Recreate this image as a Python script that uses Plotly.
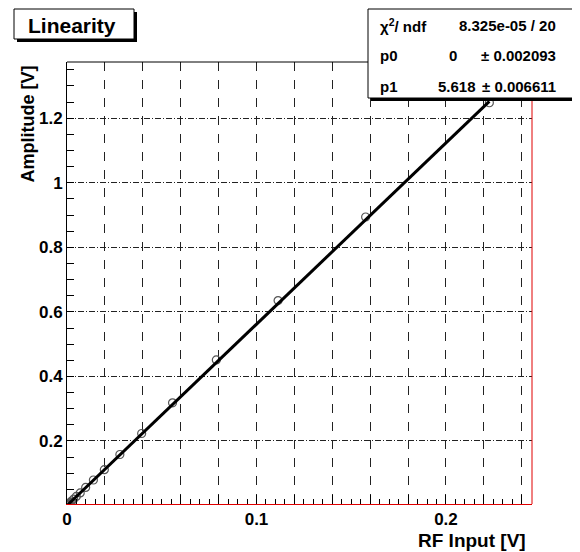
import plotly.graph_objects as go

# ---- data ----
rf_input = [0.2229, 0.1576, 0.1114, 0.0788, 0.0557, 0.0394, 0.0279, 0.0197,
            0.01393, 0.00985, 0.00697, 0.00492, 0.00348, 0.00246, 0.00174,
            0.00123, 0.00087, 0.00062, 0.00044, 0.00031, 0.00022, 0.00015]
amplitude = [1.248, 0.894, 0.635, 0.451, 0.318, 0.223, 0.158, 0.111,
             0.079, 0.056, 0.039, 0.028, 0.0196, 0.0139, 0.0098,
             0.0069, 0.0049, 0.0035, 0.0025, 0.0017, 0.0012, 0.0009]
p0 = 0.0
p1 = 5.618
x_tick_vals = [0.0, 0.02, 0.04, 0.06, 0.08, 0.10, 0.12, 0.14, 0.16, 0.18, 0.20, 0.22, 0.24]
x_tick_text = ["0", "", "", "", "", "0.1", "", "", "", "", "0.2", "", ""]
y_tick_vals = [0.2, 0.4, 0.6, 0.8, 1.0, 1.2]
y_tick_text = ["0.2", "0.4", "0.6", "0.8", "1", "1.2"]
stats_rows = [("χ<sup>2</sup>/ ndf", "8.325e-05 / 20", None),
              ("p0", "0", "± 0.002093"),
              ("p1", "5.618", "± 0.006611")]

fit_x = [min(rf_input), max(rf_input)]
fit_y = [p0 + p1 * v for v in fit_x]

# page body has an 8px margin; work in window pixel coordinates and shift
OFF = 8
W, H = 580 - OFF, 552 - OFF
L, R, T, B = 67, 532, 62, 504          # plot area in window pixels
FONT = "Liberation Sans, Arial, sans-serif"


def px(xp):
    return (xp - L) / (R - L)


def py(yp):
    return (B - yp) / (B - T)


fig = go.Figure()
fig.add_trace(go.Scatter(x=rf_input, y=amplitude, mode="markers",
                         marker=dict(symbol="circle-open", size=8,
                                     color="#555555", line=dict(width=1.2)),
                         showlegend=False))
fig.add_trace(go.Scatter(x=fit_x, y=fit_y, mode="lines",
                         line=dict(color="black", width=3),
                         showlegend=False))

shapes = []
# frame: top & left black, right & bottom red
shapes.append(dict(type="line", xref="paper", yref="paper", x0=0, x1=1, y0=1, y1=1,
                   line=dict(color="black", width=1)))
shapes.append(dict(type="line", xref="paper", yref="paper", x0=1, x1=1, y0=0, y1=1,
                   line=dict(color="#e00000", width=1)))


def box(x0, y0, x1, y1):
    # shadow
    shapes.append(dict(type="rect", xref="paper", yref="paper",
                       x0=px(x0 + 3), x1=px(x1 + 3), y0=py(y1 + 3), y1=py(y0 + 3),
                       fillcolor="black", line=dict(width=0), layer="above"))
    shapes.append(dict(type="rect", xref="paper", yref="paper",
                       x0=px(x0), x1=px(x1), y0=py(y1), y1=py(y0),
                       fillcolor="white", line=dict(color="black", width=1), layer="above"))


box(14, 9, 134, 39)
box(368, 9, 576, 98)

annotations = []


def txt(text, xp, yp, size, xanchor="left", yanchor="middle", angle=0):
    annotations.append(dict(text=text, xref="paper", yref="paper", x=px(xp), y=py(yp),
                            xanchor=xanchor, yanchor=yanchor, showarrow=False,
                            textangle=angle,
                            font=dict(family=FONT, size=size, color="black", weight="bold")))


txt("Linearity", 72, 25, 21, xanchor="center")
row_y = [25, 55, 86]
for (lab, v1, v2), yy in zip(stats_rows, row_y):
    txt(lab, 378, yy, 15)
    if v2 is None:
        txt(v1, 558, yy, 15, xanchor="right")
    else:
        txt(v1, 459 if lab == "p0" else 478, yy, 15, xanchor="right")
        txt(v2, 558, yy, 15, xanchor="right")

txt("Amplitude [V]", 27, 64, 18, xanchor="center", yanchor="top", angle=-90)
txt("RF Input [V]", 528, 540, 19, xanchor="right")

fig.update_layout(
    width=W, height=H,
    margin=dict(l=L - OFF, r=W - (R - OFF), t=T - OFF, b=H - (B - OFF), pad=0),
    paper_bgcolor="white", plot_bgcolor="white",
    shapes=shapes, annotations=annotations,
    font=dict(family=FONT, color="black"),
    xaxis=dict(range=[0, 0.2454], tickvals=x_tick_vals, ticktext=x_tick_text,
               ticks="inside", ticklen=9, tickcolor="black", tickwidth=1,
               showgrid=True, gridcolor="#222222", gridwidth=1, griddash="dash",
               showline=True, linecolor="#e00000", linewidth=1,
               zeroline=False,
               tickfont=dict(family=FONT, size=17, color="black", weight="bold"),
               minor=dict(dtick=0.005, tick0=0, ticks="inside", ticklen=5,
                          tickcolor="black", showgrid=False)),
    yaxis=dict(range=[0.0046, 1.3743], tickvals=y_tick_vals, ticktext=y_tick_text,
               ticks="inside", ticklen=7, tickcolor="black", tickwidth=1,
               showgrid=True, gridcolor="#222222", gridwidth=1,
               griddash="6px,2px,1px,2px",
               showline=True, linecolor="black", linewidth=1,
               zeroline=False,
               tickfont=dict(family=FONT, size=17, color="black", weight="bold"),
               minor=dict(dtick=0.05, tick0=0, ticks="inside", ticklen=7,
                          tickcolor="black", showgrid=False)),
)

fig.write_html("out.html")
